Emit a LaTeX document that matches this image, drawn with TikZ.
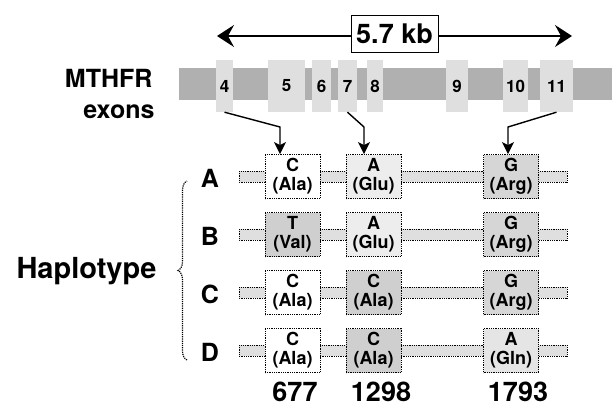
\documentclass[tikz,border=0pt]{standalone}
\usepackage{fontspec}
\setmainfont{TeX Gyre Heros}
\usetikzlibrary{arrows.meta, decorations.pathreplacing}

\begin{document}
\begin{tikzpicture}[x=1pt, y=-1pt,
    exon/.style={fill=gray!25, minimum height=52pt, inner sep=0pt, font=\fontsize{17}{17}\selectfont\bfseries},
    allele/.style={draw, densely dotted, thick, minimum width=55pt, minimum height=44pt, inner sep=0pt, align=center, font=\fontsize{18}{19}\selectfont\bfseries},
    strip/.style={draw, densely dotted, thick, fill=gray!25},
    drop/.style={line width=1.4pt, -{Stealth[length=12pt, width=12pt, inset=3pt]}},
    span/.style={line width=1.5pt, -{Stealth[length=17pt, width=22pt, inset=6pt]}},
  ]
  \useasboundingbox (0,0) rectangle (612,408);
  % Gene length
  \node[draw, thick, minimum width=87pt, minimum height=37pt, inner sep=0pt, font=\fontsize{27}{27}\selectfont\bfseries] (kb) at (394.5,34) {5.7 kb};
  \coordinate (kbL) at (217,36);
  \coordinate (kbR) at (572,36);
  \draw[span] (kb.west |- kbL) -- (kbL);
  \draw[span] (kb.east |- kbR) -- (kbR);
  % Gene and exons
  \fill[gray!62] (179,68) rectangle (612,100);
  \foreach \n/\x/\w in {4/224.5/17, 5/286.5/37, 6/321.5/19, 7/347.5/19, 8/375/16, 9/457/22, 10/515.5/25, 11/556.5/33} {
    \node[exon, minimum width=\w pt] (E\n) at (\x,86) {\n};
  }
  \node[anchor=base east, font=\fontsize{25}{25}\selectfont\bfseries] (mthfr) at (156,87) {MTHFR};
  \node[anchor=base east, font=\fontsize{25}{25}\selectfont\bfseries] (exn) at (158,118) {exons};
  % Haplotype rows
  \foreach \r/\y in {A/176.5, B/234.5, C/292.5, D/350.5} {
    \draw[strip] (239,\y-5.5) rectangle (567,\y+5.5);
    \node[anchor=base, font=\fontsize{25}{25}\selectfont\bfseries] (L\r) at (210,\y+11) {\r};
  }
  \foreach \r/\k/\x/\y/\nt/\aa/\tone in {
      A/1/292.5/176.5/C/Ala/white, A/2/373.5/176.5/A/Glu/gray!14, A/3/511/176.5/G/Arg/gray!32,
      B/1/292.5/234.5/T/Val/gray!38, B/2/373.5/234.5/A/Glu/gray!14, B/3/511/234.5/G/Arg/gray!32,
      C/1/292.5/292.5/C/Ala/white, C/2/373.5/292.5/C/Ala/gray!38, C/3/511/292.5/G/Arg/gray!32,
      D/1/292.5/350.5/C/Ala/white, D/2/373.5/350.5/C/Ala/gray!38, D/3/511/350.5/A/Gln/gray!20} {
    \node[allele, fill=\tone] (\r\k) at (\x,\y) {\nt\\(\aa)};
  }
  % Exon to site arrows
  \coordinate (k1) at (280,127);
  \coordinate (k2) at (364,127);
  \coordinate (k3) at (508,127);
  \draw[drop] (E4.south) -- (k1) -- (k1 |- A1.north);
  \draw[drop] (E7.south) -- (k2) -- (k2 |- A2.north);
  \draw[drop] (E11.south) -- (k3) -- (k3 |- A3.north);
  % Brace
  \coordinate (brTop) at (187,181);
  \coordinate (brBot) at (187,360);
  \draw[line width=1.2pt, densely dotted, decorate, decoration={brace, amplitude=9pt}] (brBot) -- (brTop);
  \node[anchor=base west, font=\fontsize{29}{29}\selectfont\bfseries] (hap) at (13,278) {Haplotype};
  % Positions
  \foreach \p/\x in {677/295, 1298/381, 1793/518} {
    \node[anchor=base, font=\fontsize{27}{27}\selectfont\bfseries] (P\p) at (\x,401) {\p};
  }
\end{tikzpicture}
\end{document}
